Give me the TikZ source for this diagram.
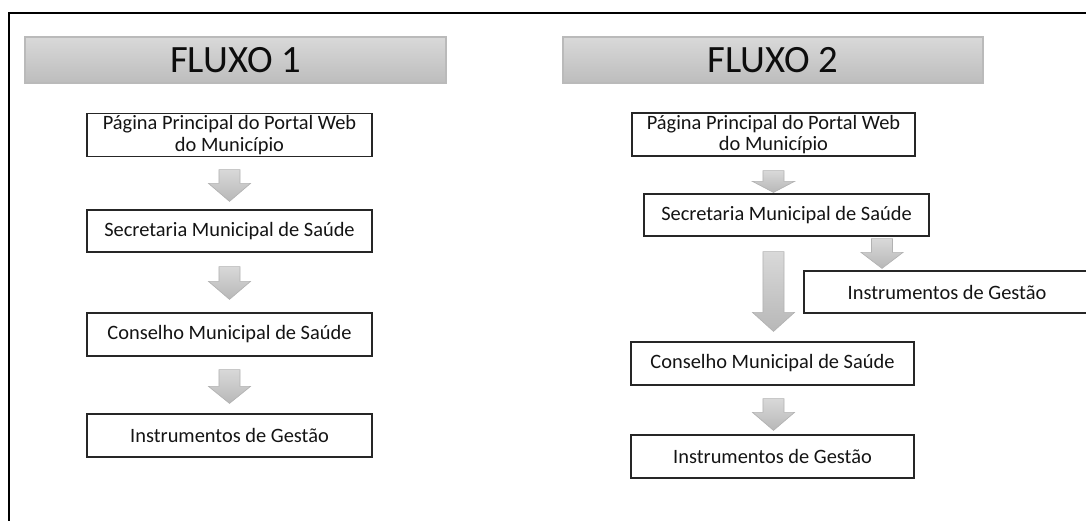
\documentclass[tikz,border=0pt]{standalone}
\usepackage{fontspec}
\setmainfont{Carlito}
\usetikzlibrary{calc}

\tikzset{
	flowbox/.style={draw=black!85, line width=0.9pt, fill=white, align=center, text=black!92,
		font=\fontsize{15.3}{16}\selectfont, inner sep=0pt, minimum width=213.75pt, minimum height=32.25pt},
	headbox/.style={draw=black!27, line width=0.9pt, top color=black!15, bottom color=black!26, text=black!95,
		font=\fontsize{29}{32}\selectfont, minimum width=315.75pt, minimum height=34.5pt},
	blockarrow/.style={draw=black!30, line width=0.5pt, top color=black!15, bottom color=black!28},
}
% block arrow: top point, tip point, head length
\newcommand{\flowarrow}[3]{%
	\path[blockarrow] let \p1=(#1), \p2=(#2) in
		(\x1-7.9pt,\y1) -- (\x1+7.9pt,\y1) -- (\x1+7.9pt,\y2+#3) -- (\x1+15.75pt,\y2+#3)
		-- (\x1,\y2) -- (\x1-15.75pt,\y2+#3) -- (\x1-7.9pt,\y2+#3) -- cycle;}

\begin{document}
\begin{tikzpicture}[x=0.75pt, y=-0.75pt]
			%%%%% START %%%%%
			
			\clip (0,0) rectangle (1086,521);
			\draw[line width=2pt] (9,530) -- (9,13) -- (1095,13);
			
			\node[headbox] (h1) at (235.5,60) {FLUXO 1};
			\node[headbox, minimum width=315pt] (h2) at (773,60) {FLUXO 2};
			
			%% fluxo 1
			\node[flowbox] (p1) at (229.5,135) {Página Principal do Portal Web\\do Município};
			\node[flowbox, minimum height=31.5pt] (s1) at (229.5,231) {Secretaria Municipal de Saúde};
			\node[flowbox] (c1) at (229.5,334.5) {Conselho Municipal de Saúde};
			\node[flowbox] (i1) at (229.5,435.5) {Instrumentos de Gestão};
			
			\coordinate (a1) at ($(p1.south)+(0,12.5)$);
			\coordinate (b1) at ($(s1.north)+(0,-8)$);
			\flowarrow{a1}{b1}{13.5pt}
			\coordinate (a2) at ($(s1.south)+(0,14)$);
			\coordinate (b2) at ($(c1.north)+(0,-13)$);
			\flowarrow{a2}{b2}{13.5pt}
			\coordinate (a3) at ($(c1.south)+(0,13)$);
			\coordinate (b3) at ($(i1.north)+(0,-10)$);
			\flowarrow{a3}{b3}{12.75pt}
			
			%% fluxo 2
			\node[flowbox, minimum width=212.25pt] (p2) at (773.5,134.5) {Página Principal do Portal Web\\do Município};
			\node[flowbox, minimum height=31.5pt] (s2) at (786.5,215) {Secretaria Municipal de Saúde};
			\node[flowbox, minimum width=214.5pt, minimum height=31.5pt] (g2) at (947,292) {Instrumentos de Gestão};
			\node[flowbox, minimum width=212.25pt] (c2) at (772.5,363.5) {Conselho Municipal de Saúde};
			\node[flowbox, minimum width=212.25pt] (i2) at (772.5,456.5) {Instrumentos de Gestão};
			
			\coordinate (d1) at ($(p2.south)+(0,14)$);
			\coordinate (e1) at ($(p2.south |- s2.north)+(0,-1)$);
			\flowarrow{d1}{e1}{8.25pt}
			\coordinate (d2) at ($(s2.south -| c2.north)+(1,15)$);
			\coordinate (e2) at ($(c2.north)+(1,-10)$);
			\flowarrow{d2}{e2}{14.25pt}
			\coordinate (d3) at ($(s2.south -| g2.north)+(-65,2)$);
			\coordinate (e3) at ($(g2.north)+(-65,-2)$);
			\flowarrow{d3}{e3}{12pt}
			\coordinate (d4) at ($(c2.south)+(1,13)$);
			\coordinate (e4) at ($(i2.north)+(1,-4)$);
			\flowarrow{d4}{e4}{13.5pt}
			
			%%%%% END %%%%%
\end{tikzpicture}
\end{document}
